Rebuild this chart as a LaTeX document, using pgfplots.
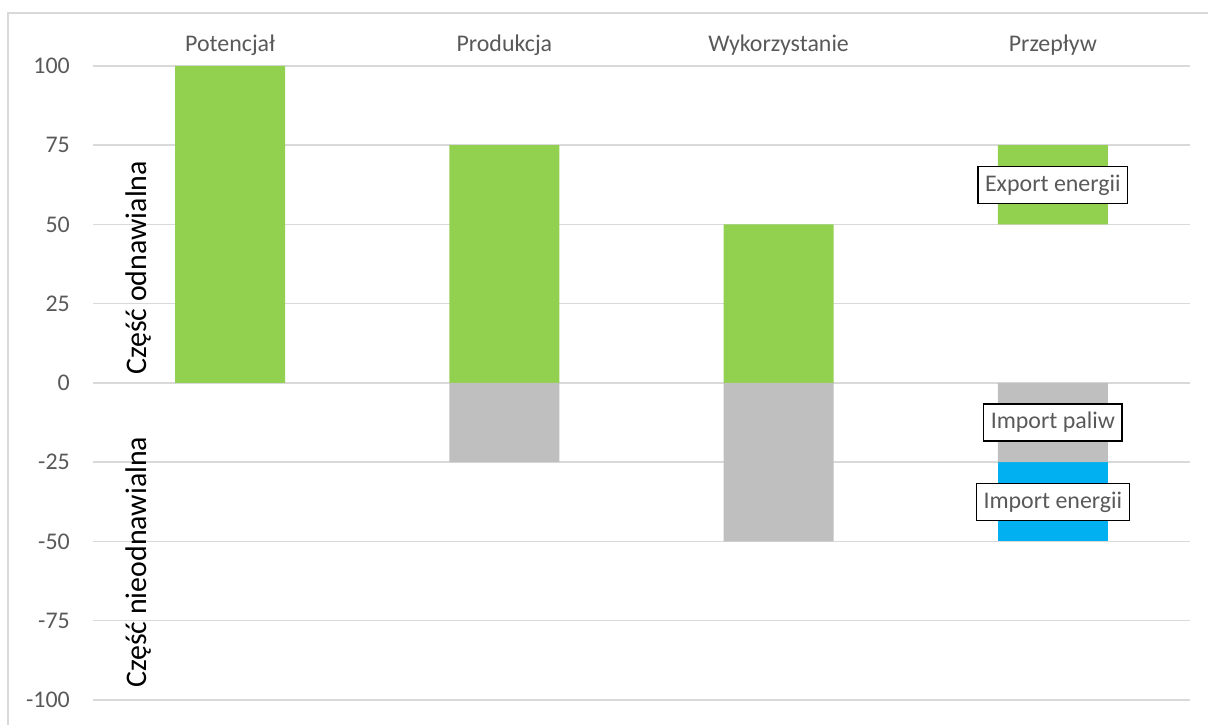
\documentclass[border=0pt]{standalone}
\usepackage{fontspec}
\setmainfont{Carlito}
\usepackage{pgfplots}
\pgfplotsset{compat=1.18}

\definecolor{txtgray}{HTML}{595959}
\definecolor{gridgray}{HTML}{D9D9D9}
\definecolor{barGreen}{HTML}{92D050}
\definecolor{barGray}{HTML}{BFBFBF}
\definecolor{barBlue}{HTML}{00B0F0}

\tikzset{flowlabel/.style={draw=black, line width=1.3bp, fill=white,
    text=txtgray, font=\fontsize{24}{27}\selectfont,
    inner xsep=7bp, minimum height=37bp}}

\pgfplotsset{
  common/.style={
    at={(93bp,25bp)}, anchor=south west,
    width=1097bp, height=634bp, scale only axis,
    xmin=-0.5, xmax=3.5, ymin=-100, ymax=100,
    ybar stacked, bar width=110bp,
  },
}

\begin{document}
\begin{tikzpicture}
\path[use as bounding box] (0,0) rectangle (1208bp,725bp);
\clip (0,0) rectangle (1208bp,725bp);
% chart frame
\draw[gridgray, line width=2bp] (8bp,712bp) rectangle (1240bp,-20bp);

% renewable part (positive values), with an invisible offset for the floating bar
\begin{axis}[common,
    axis line style={draw=none},
    ymajorgrids, grid style={gridgray, line width=1.5bp},
    ytick={-100,-75,...,100},
    yticklabels={-100,-75,-50,-25,0,25,50,75,100},
    yticklabel style={font=\fontsize{24}{27}\selectfont, text=txtgray, anchor=east, inner sep=0pt, xshift=-23bp},
    xtick={0,1,2,3},
    xticklabels={Potencjał,Produkcja,Wykorzystanie,Przepływ},
    xticklabel pos=upper,
    xticklabel style={font=\fontsize{24}{27}\selectfont, text=txtgray, anchor=base, inner sep=0pt, yshift=14bp},
    major tick length=0pt,
  ]
  \addplot[fill=none, draw=none] coordinates {(0,0) (1,0) (2,0) (3,50)};
  \addplot[fill=barGreen, draw=none] coordinates {(0,100) (1,75) (2,50) (3,25)};
\end{axis}

% non-renewable part (negative values)
\begin{axis}[common, hide axis]
  \addplot[fill=barGray, draw=none] coordinates {(0,0) (1,-25) (2,-50) (3,-25)};
  \addplot[fill=barBlue, draw=none] coordinates {(0,0) (1,0) (2,0) (3,-25)};
  \coordinate (export) at (axis cs:3,62.5);
  \coordinate (paliw) at (axis cs:3,-12.5);
  \coordinate (importE) at (axis cs:3,-37.5);
\end{axis}

% flow labels on top of the bars
\node[flowlabel] at (export) {Export energii};
\node[flowlabel] at (paliw) {Import paliw};
\node[flowlabel] at (importE) {Import energii};

% side captions
\node[rotate=90, anchor=base west, inner sep=0pt, font=\fontsize{30}{34}\selectfont]
  at (146bp,350bp) {Część odnawialna};
\node[rotate=90, anchor=base west, inner sep=0pt, font=\fontsize{30}{34}\selectfont]
  at (146bp,37bp) {Część nieodnawialna};
\end{tikzpicture}
\end{document}
